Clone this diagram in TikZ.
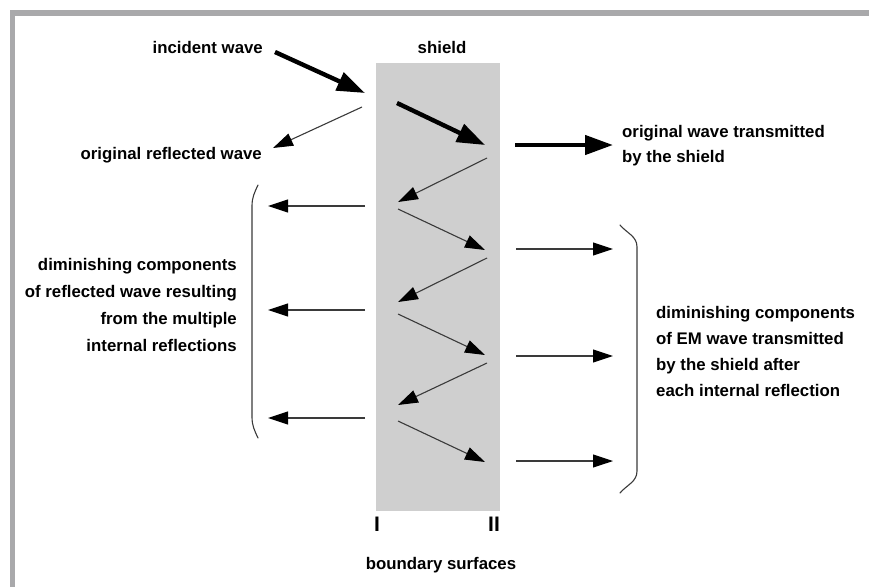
\documentclass[tikz,border=0pt]{standalone}
\usepackage{fontspec}
\setmainfont{Liberation Sans}
\usetikzlibrary{arrows.meta}
\definecolor{framegray}{HTML}{A9A9AB}
\definecolor{shieldgray}{HTML}{CFCFCF}
\definecolor{thingray}{HTML}{3A3A3A}
\tikzset{
  lbl/.style={font=\fontsize{16.8}{26}\selectfont\bfseries, inner sep=0pt},
  thickarrow/.style={line width=4.4pt, black, -{Triangle[length=28pt,width=19pt]}},
  thinarrow/.style={line width=1.1pt, thingray, -{Triangle[length=20pt,width=13pt,fill=black,color=black]}},
  bracket/.style={line width=1.1pt, thingray, line cap=round},
}
\begin{document}
\begin{tikzpicture}[x=1pt,y=-1pt]
\useasboundingbox (0,0) rectangle (869,587);
% frame
\fill[framegray] (10,10) rectangle (869,16);
\fill[framegray] (10,10) rectangle (15,587);
% shield
\node[fill=shieldgray, minimum width=124pt, minimum height=448pt, inner sep=0pt, anchor=north west] (shield) at (376,63) {};
% labels
\node[lbl] (lshield) at (442,47) {shield};
\node[lbl, anchor=east] (linc) at (263,47) {incident wave};
\node[lbl, anchor=east] (lrefl) at (262,155) {original reflected wave};
\node[lbl, anchor=west, align=left, font=\fontsize{16.8}{25}\selectfont\bfseries] (ltrans) at (622,145.5) {original wave transmitted\\by the shield};
\node[lbl, anchor=east, align=right, font=\fontsize{16.8}{26.7}\selectfont\bfseries] (lleft) at (237,305) {diminishing components\\of reflected wave resulting\\from the multiple\\internal reflections};
\node[lbl, anchor=west, align=left] (lright) at (656,351) {diminishing components\\of EM wave transmitted\\by the shield after\\each internal reflection};
\node[lbl] (lbound) at (441,565) {boundary surfaces};
\node[font=\fontsize{21}{21}\selectfont\bfseries, inner sep=0pt] (lI) at (377,524) {I};
\node[font=\fontsize{21}{21}\selectfont\bfseries, inner sep=0pt] (lII) at (494,524) {II};
% coordinates
\coordinate (i0) at (275,52);  \coordinate (i1) at (365,93);
\coordinate (r0) at (362,107); \coordinate (r1) at (273,148);
\coordinate (t0) at (397,103); \coordinate (t1) at (485,145);
\coordinate (o0) at (515,145); \coordinate (o1) at (613,145);
\coordinate (z1a) at (487,158); \coordinate (z1b) at (398,202);
\coordinate (z2a) at (398,209); \coordinate (z2b) at (485,250);
\coordinate (z3a) at (487,258); \coordinate (z3b) at (398,302);
\coordinate (z4a) at (398,314); \coordinate (z4b) at (485,355);
\coordinate (z5a) at (487,363); \coordinate (z5b) at (398,405);
\coordinate (z6a) at (398,421); \coordinate (z6b) at (485,462);
\coordinate (L1a) at (365,206); \coordinate (L1b) at (268,206);
\coordinate (L2a) at (365,310); \coordinate (L2b) at (268,310);
\coordinate (L3a) at (365,418); \coordinate (L3b) at (268,418);
\coordinate (R1a) at (516,249); \coordinate (R1b) at (613,249);
\coordinate (R2a) at (516,356); \coordinate (R2b) at (613,356);
\coordinate (R3a) at (516,461); \coordinate (R3b) at (613,461);
% thick arrows
\draw[thickarrow] (i0) -- (i1);
\draw[thickarrow] (t0) -- (t1);
\draw[thickarrow] (o0) -- (o1);
% thin arrows
\draw[thinarrow] (r0) -- (r1);
\foreach \n in {1,...,6} \draw[thinarrow] (z\n a) -- (z\n b);
\foreach \n in {1,2,3} {
  \draw[thinarrow] (L\n a) -- (L\n b);
  \draw[thinarrow] (R\n a) -- (R\n b);
}
% brackets
\coordinate (bl0) at (258,185); \coordinate (bl1) at (258,438);
\coordinate (br0) at (620,225); \coordinate (br1) at (620,493);
\draw[bracket] (bl0) to[out=-115,in=90] (252,206) -- (252,417) to[out=-90,in=115] (bl1);
\draw[bracket] (br0) to[out=-50,in=90] (637,247) -- (637,471) to[out=-90,in=50] (br1);
\end{tikzpicture}
\end{document}
